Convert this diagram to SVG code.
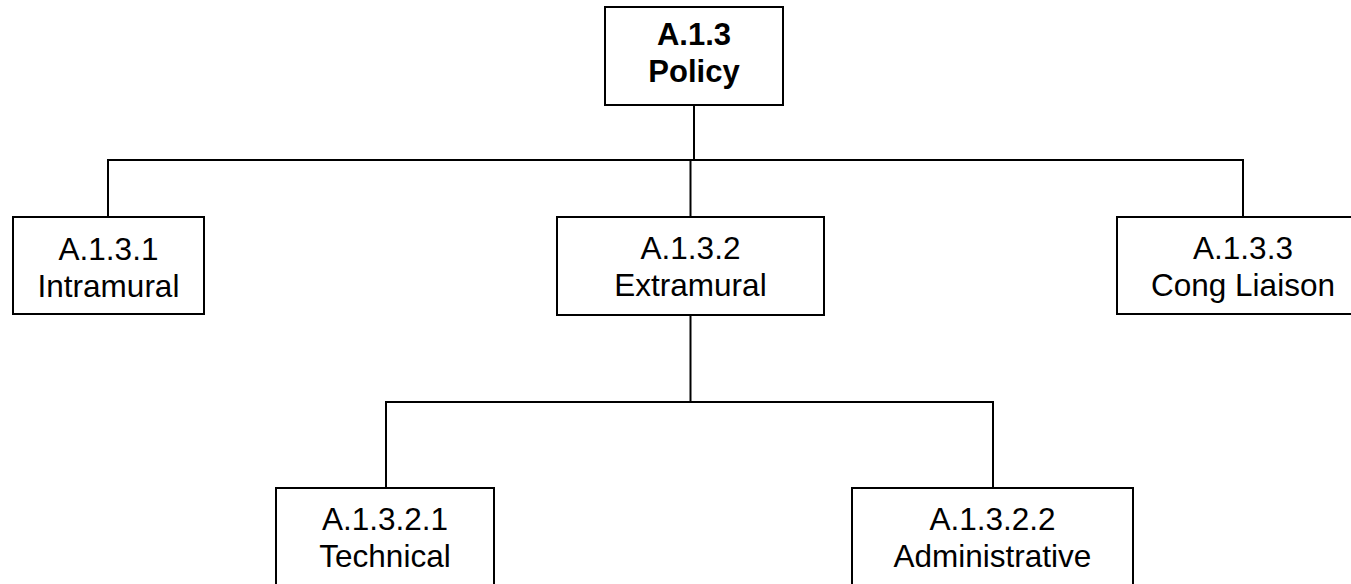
<svg xmlns="http://www.w3.org/2000/svg" width="1351" height="584" viewBox="0 0 1351 584">
<style>
.box{fill:#fff;stroke:#000;stroke-width:2}
.ln{fill:none;stroke:#000;stroke-width:2}
text{font-family:"Liberation Sans",Arial,sans-serif;font-size:31.5px;fill:#000;text-anchor:middle}
.b{font-weight:bold;font-size:31px}
</style>
<rect width="1351" height="584" fill="#fff"/>
<g id="connectors">
<path class="ln" d="M694 105V160"/>
<path class="ln" d="M108 217V160H1243V217"/>
<path class="ln" d="M690.5 160V217"/>
<path class="ln" d="M690.5 315V402"/>
<path class="ln" d="M386 488V402H993V488"/>
</g>
<g id="n_a13">
<rect class="box" x="605" y="7" width="178" height="98"/>
<text class="b" x="694" y="45">A.1.3</text>
<text class="b" x="694" y="82">Policy</text>
</g>
<g id="n_a131">
<rect class="box" x="13" y="217" width="191" height="97"/>
<text x="108.5" y="260">A.1.3.1</text>
<text x="108.5" y="297">Intramural</text>
</g>
<g id="n_a132">
<rect class="box" x="557" y="217" width="267" height="98"/>
<text x="690.5" y="259">A.1.3.2</text>
<text x="690.5" y="296">Extramural</text>
</g>
<g id="n_a133">
<rect class="box" x="1117" y="217" width="252" height="97"/>
<text x="1243" y="259">A.1.3.3</text>
<text x="1243" y="296">Cong Liaison</text>
</g>
<g id="n_a1321">
<rect class="box" x="276" y="488" width="218" height="110"/>
<text x="385" y="530">A.1.3.2.1</text>
<text x="385" y="567">Technical</text>
</g>
<g id="n_a1322">
<rect class="box" x="852" y="488" width="281" height="110"/>
<text x="992.5" y="530">A.1.3.2.2</text>
<text x="992.5" y="567">Administrative</text>
</g>
</svg>
